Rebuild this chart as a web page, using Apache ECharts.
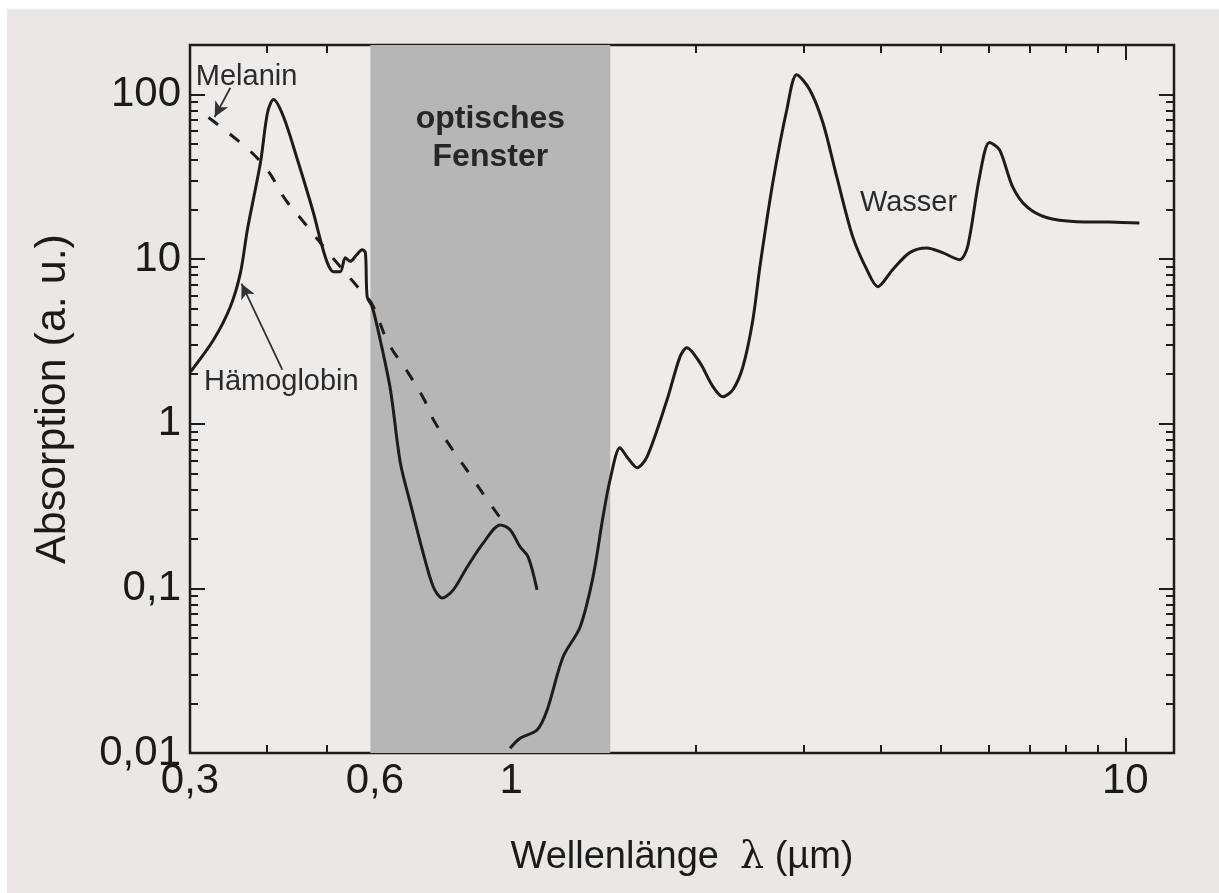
<!DOCTYPE html>
<html>
<head>
<meta charset="utf-8">
<title>Absorption</title>
<script src="https://cdn.jsdelivr.net/npm/echarts@6/dist/echarts.min.js"></script>
<style>
  html, body { margin: 0; padding: 0; }
  body {
    width: 1219px; height: 893px; overflow: hidden;
    background:
      linear-gradient(to bottom, #ffffff 0, #ffffff 9px, rgba(255,255,255,0) 9px),
      linear-gradient(to right, #ffffff 0, #ffffff 7px, #ebe8e4 7px);
  }
  #chart { width: 1219px; height: 893px; }
</style>
</head>
<body>
<div id="chart"></div>
<script>
// Hämoglobin (solid)
const hbLambda = [0.3006, 0.3277, 0.349, 0.3625, 0.372, 0.3907, 0.4012, 0.4102, 0.4258, 0.4487, 0.4764, 0.4891, 0.5021, 0.5135, 0.527, 0.537, 0.547, 0.560, 0.572, 0.579, 0.583, 0.594, 0.612, 0.636, 0.660, 0.685, 0.719, 0.747, 0.772, 0.805, 0.848, 0.901, 0.960, 0.996, 1.034, 1.066, 1.102];
const hbValue  = [2.07, 3.24, 5.14, 8.28, 15.1, 38.6, 77.8, 93.2, 73.5, 40.3, 19.2, 13.1, 9.5, 8.4, 8.4, 10.2, 9.7, 10.6, 11.4, 10.96, 5.9, 5.14, 3.24, 1.61, 0.58, 0.331, 0.164, 0.102, 0.0875, 0.098, 0.135, 0.189, 0.243, 0.227, 0.179, 0.155, 0.098];

// Melanin (dashed)
const melLambda = [0.3216, 0.3736, 0.4027, 0.4291, 0.4589, 0.5077, 0.568, 0.594, 0.631, 0.6826, 0.722, 0.747, 0.799, 0.855, 0.917, 0.960];
const melValue  = [72.5, 46.3, 34.0, 23.0, 16.9, 10.6, 6.5, 5.3, 3.1, 1.99, 1.40, 1.06, 0.714, 0.497, 0.340, 0.268];

// Wasser (solid)
const waterLambda = [0.996, 1.034, 1.102, 1.144, 1.215, 1.295, 1.359, 1.411, 1.449, 1.504, 1.544, 1.603, 1.664, 1.794, 1.883, 1.932, 2.029, 2.131, 2.212, 2.296, 2.384, 2.475, 2.541, 2.667, 2.811, 2.917, 3.063, 3.217, 3.389, 3.598, 3.794, 3.953, 4.179, 4.456, 4.748, 5.040, 5.372, 5.535, 5.789, 6.009, 6.238, 6.551, 6.902, 7.438, 8.323, 9.42, 10.54];
const waterValue  = [0.0107, 0.0123, 0.0138, 0.0182, 0.0384, 0.0583, 0.117, 0.272, 0.457, 0.714, 0.629, 0.541, 0.629, 1.40, 2.55, 2.90, 2.35, 1.68, 1.46, 1.61, 2.22, 4.29, 9.0, 29.2, 81.1, 132, 107, 67.6, 31.7, 13.7, 8.63, 6.81, 8.63, 10.96, 11.7, 10.96, 9.93, 11.9, 31.7, 51.1, 46.3, 27.6, 20.9, 17.9, 16.9, 16.8, 16.6];

// optical window
const windowRange = [0.59, 1.45];

// axis ticks and labels
const xRange = [0.3, 12];
const yRange = [0.01, 200];
const xTickLabels = [0.3, 0.6, 1, 10];
const xMajorTicks = [1, 10];
const xMinorTicks = [0.4, 0.5, 0.6, 0.7, 0.8, 0.9, 2, 3, 4, 5, 6, 7, 8, 9];
const yTickLabels = [0.01, 0.1, 1, 10, 100];
const yMajorTicks = [0.1, 1, 10, 100];
const yMinorTicks = [0.02, 0.03, 0.04, 0.05, 0.06, 0.07, 0.08, 0.09,
                     0.2, 0.3, 0.4, 0.5, 0.6, 0.7, 0.8, 0.9,
                     2, 3, 4, 5, 6, 7, 8, 9,
                     20, 30, 40, 50, 60, 70, 80, 90];

// annotation anchors [λ, value]
const melaninLabelAt = [0.306, 128];
const hbLabelAt = [0.3155, 1.8];
const waterLabelAt = [3.69, 22];
const melaninArrow = [[0.349, 110], [0.329, 73]];
const hbArrow = [[0.424, 2.13], [0.364, 7.1]];

const zip = (a, b) => a.map((v, i) => [v, b[i]]);
const INK = '#1c1c1c';
const FONT = '"Liberation Sans", Arial, Helvetica, sans-serif';
const fmt = v => String(Number(Number(v).toPrecision(6))).replace('.', ',');

function xAxis(position, ticks, len, labels) {
  return {
    type: 'log', logBase: 10, position, min: xRange[0], max: xRange[1],
    axisLine: { show: false },
    splitLine: { show: false },
    axisTick: { show: true, inside: true, length: len, customValues: ticks,
                lineStyle: { color: INK, width: 2 } },
    axisLabel: labels ? { show: true, customValues: labels, formatter: fmt, margin: 7,
                          color: '#1a1a1a', fontSize: 42, fontFamily: FONT }
                      : { show: false },
    name: '', nameTextStyle: {}
  };
}
function yAxis(position, ticks, len, labels) {
  return {
    type: 'log', logBase: 10, position, min: yRange[0], max: yRange[1],
    axisLine: { show: false },
    splitLine: { show: false },
    axisTick: { show: true, inside: true, length: len, customValues: ticks,
                lineStyle: { color: INK, width: 2 } },
    axisLabel: labels ? { show: true, customValues: labels, formatter: fmt, margin: 9,
                          color: '#1a1a1a', fontSize: 42, fontFamily: FONT }
                      : { show: false }
  };
}

const xAxes = [
  xAxis('bottom', xMajorTicks, 15, xTickLabels),
  xAxis('bottom', xMinorTicks, 8, null),
  xAxis('top', xMajorTicks, 15, null),
  xAxis('top', xMinorTicks, 8, null)
];
Object.assign(xAxes[0], {
  name: 'Wellenlänge  {l|λ} (µm)', nameLocation: 'middle', nameGap: 86,
  nameTextStyle: { color: '#1a1a1a', fontSize: 38, fontFamily: FONT,
                   rich: { l: { fontSize: 38, fontFamily: '"DejaVu Serif", serif', color: '#1a1a1a' } } }
});
const yAxes = [
  yAxis('left', yMajorTicks, 15, yTickLabels),
  yAxis('left', yMinorTicks, 8, null),
  yAxis('right', yMajorTicks, 15, null),
  yAxis('right', yMinorTicks, 8, null)
];
Object.assign(yAxes[0], {
  name: 'Absorption (a. u.)', nameLocation: 'middle', nameGap: 115, nameRotate: 90,
  nameTextStyle: { color: '#1a1a1a', fontSize: 43, fontFamily: FONT }
});

const textLabel = (text) => ({
  show: true, position: 'right', distance: 0, formatter: text,
  color: '#2b2b2b', fontSize: 29, fontFamily: FONT
});

const chart = echarts.init(document.getElementById('chart'), null, { renderer: 'canvas' });
chart.setOption({
  backgroundColor: 'transparent',
  animation: false,
  grid: { left: 190, right: 45, top: 45, bottom: 140, show: true,
          borderColor: INK, borderWidth: 2.5, backgroundColor: '#eeebe8' },
  xAxis: xAxes,
  yAxis: yAxes,
  series: [
    {
      name: 'optisches Fenster', type: 'line', data: [], xAxisIndex: 0, yAxisIndex: 0,
      markArea: {
        silent: true,
        itemStyle: { color: '#b7b6b4' },
        label: { show: true, position: 'insideTop', distance: 55,
                 formatter: 'optisches\nFenster', color: '#262626',
                 fontSize: 32, fontWeight: 'bold', lineHeight: 38, fontFamily: FONT },
        data: [[{ xAxis: windowRange[0], yAxis: yRange[0] }, { xAxis: windowRange[1], yAxis: yRange[1] }]]
      },
      z: 1
    },
    {
      name: 'Melanin', type: 'line', data: zip(melLambda, melValue),
      showSymbol: false, smooth: 0.35, z: 3,
      lineStyle: { color: INK, width: 3, type: [12, 15] },
      markLine: {
        silent: true, symbol: ['none', 'arrow'], symbolSize: [11, 15],
        lineStyle: { color: '#333333', width: 1.8, type: 'solid' },
        label: { show: false },
        data: [
          [{ coord: melaninArrow[0] }, { coord: melaninArrow[1] }],
          [{ coord: hbArrow[0] }, { coord: hbArrow[1] }]
        ]
      },
      markPoint: {
        silent: true, symbol: 'circle', symbolSize: 1,
        itemStyle: { color: 'rgba(0,0,0,0)' },
        data: [
          { coord: melaninLabelAt, label: textLabel('Melanin') },
          { coord: hbLabelAt, label: textLabel('Hämoglobin') },
          { coord: waterLabelAt, label: textLabel('Wasser') }
        ]
      }
    },
    {
      name: 'Hämoglobin', type: 'line', data: zip(hbLambda, hbValue),
      showSymbol: false, smooth: 0.3, z: 4,
      lineStyle: { color: INK, width: 3 }
    },
    {
      name: 'Wasser', type: 'line', data: zip(waterLambda, waterValue),
      showSymbol: false, smooth: 0.3, z: 4,
      lineStyle: { color: INK, width: 3 }
    }
  ]
});
</script>
</body>
</html>
